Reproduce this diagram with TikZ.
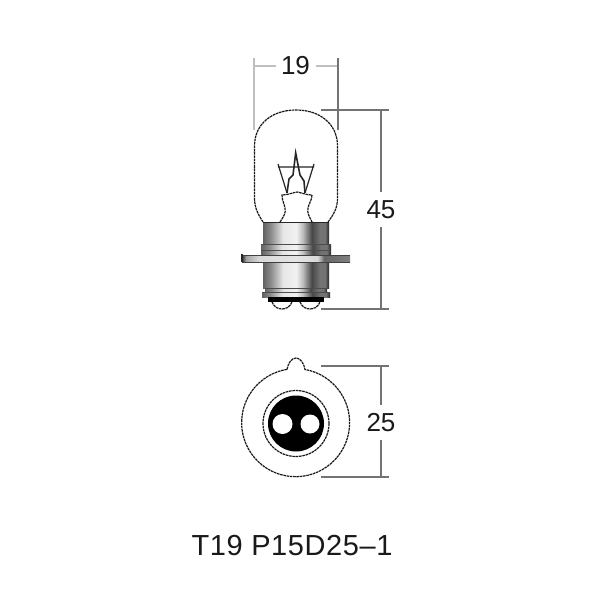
\documentclass[tikz,border=0pt]{standalone}
\usepackage{fontspec}
\setmainfont{Liberation Sans}
\pgfdeclarehorizontalshading{capshade}{100bp}{
 color(0bp)=(black!60); color(25bp)=(black!62); color(31bp)=(black!45); color(40bp)=(black!10);
 color(50bp)=(black!5); color(55bp)=(black!25); color(62bp)=(black!72); color(68bp)=(black!55); color(72bp)=(black!55); color(75bp)=(black!85); color(100bp)=(black!85)}
\pgfdeclarehorizontalshading{flangeshade}{100bp}{
 color(0bp)=(black!80); color(25bp)=(black!80); color(27bp)=(black!35); color(33bp)=(black!15);
 color(50bp)=(black!10); color(60bp)=(black!15); color(63bp)=(black!60); color(75bp)=(black!50); color(100bp)=(black!50)}
\tikzset{
 outline/.style={draw=black!90,line width=1.2pt,dash pattern=on 2.6pt off .7pt},
 dimdark/.style={draw=black!55,line width=1.1pt},
 dimlight/.style={draw=black!25,line width=1.7pt},
 dimtext/.style={inner sep=0pt,font=\fontsize{26}{26}\selectfont,text=black!90},
 wire/.style={draw=black!85,line width=1.2pt},
 band/.style={shading=capshade,draw=none}
}
\begin{document}
\begin{tikzpicture}[x=1pt,y=-1pt]
\useasboundingbox (0,0) rectangle (600,600);
\fill[white] (0,0) rectangle (600,600);
% dimension lines
\draw[dimlight] (254,58) -- (254,130);
\draw[dimlight] (254,66) -- (276,66) (316,66) -- (338,66);
\draw[dimdark] (338,58) -- (338,130);
\draw[dimdark] (321,110) -- (389,110);
\draw[dimdark] (321,309) -- (389,309);
\draw[dimdark] (381,110) -- (381,192) (381,227) -- (381,309);
\draw[dimdark] (321,366) -- (389,366);
\draw[dimdark] (321,477) -- (389,477);
\draw[dimdark] (381,366) -- (381,405) (381,440) -- (381,477);
\node[dimtext] (wid) at (295.5,66) {19};
\node[dimtext] (len) at (381,209.5) {45};
\node[dimtext] (dia) at (381,423) {25};
\node[inner sep=0pt,font=\addfontfeature{LetterSpace=2}\fontsize{29}{29}\selectfont,text=black!90] (title) at (292,546) {T19 P15D25–1};
% bulb glass
\draw[outline] (263,222) .. controls (258,214) and (254.5,208) .. (254.5,198) -- (254.5,146)
  .. controls (254.5,124) and (272,110) .. (296,110)
  .. controls (320,110) and (337.5,124) .. (337.5,146) -- (337.5,198)
  .. controls (337.5,208) and (334,214) .. (328,222);
% neck
\draw[outline] (280,222) .. controls (284,216) and (286,213) .. (285,208)
  .. controls (284,203) and (282,200) .. (282,195)
  .. controls (288,195) and (291,193) .. (297,192)
  .. controls (303,193) and (306,195) .. (312,195)
  .. controls (312,200) and (309,203) .. (308,208)
  .. controls (307,213) and (309,216) .. (312,222);
% filament
\draw[wire] (278,164) -- (287,193) (314,164) -- (305,193) (278,167) -- (314,167);
\draw[wire,line width=1.6pt] (287,193) -- (289,179) -- (293,175) -- (295.7,153) -- (300,175) -- (304,181) -- (305,193);
% base
\shade[band] (263,222) rectangle (329,244);
\shade[band] (263,262) rectangle (329,288);
\shade[band] (261,244) rectangle (331,255);
\draw[black!70,line width=.8pt] (261,244) -- (331,244) (261,250) -- (331,250);
\draw[black!85,line width=1pt] (263,222) -- (329,222);
\shade[shading=flangeshade] (242,255) rectangle (350,262);
\draw[black!75,line width=.8pt] (242,255) -- (350,255) (242,262) -- (350,262);
\draw[black!85,line width=1.2pt] (242,254) -- (242,262);
\shade[band] (265,288) rectangle (327,292);
\shade[band] (262,292) rectangle (330,297);
\draw[black!70,line width=.8pt] (265,288) -- (327,288) (262,292) -- (330,292);
\fill[black] (268,297) rectangle (324,302);
% contacts
\draw[outline] (272,302) .. controls (274,307) and (278,309) .. (282,309) .. controls (286,309) and (290,307) .. (292,302);
\draw[outline] (300,302) .. controls (302,307) and (306,309) .. (310,309) .. controls (314,309) and (318,307) .. (320,302);
% end view
\draw[outline] (287,369.5) .. controls (288,364) and (291,358) .. (296,358)
  .. controls (301,358) and (304,364) .. (305,369.5)
  arc[start angle=-80,end angle=260,radius=54] -- cycle;
\draw[outline] (296,423.5) circle[radius=33];
\fill[black] (296,423.5) circle[radius=28];
\fill[white] (282.5,424) circle[radius=10];
\fill[white] (310,424) circle[radius=9.5];
\end{tikzpicture}
\end{document}
